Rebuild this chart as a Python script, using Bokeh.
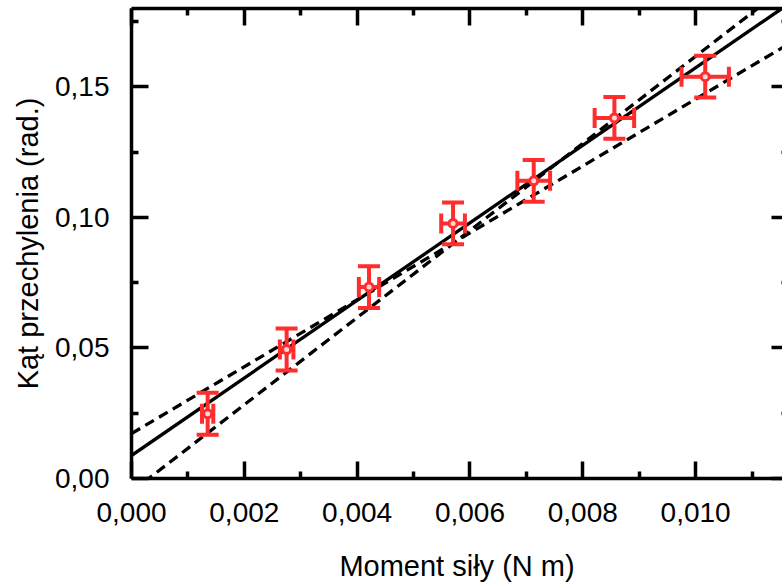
from bokeh.plotting import figure
from bokeh.models import LinearAxis, FixedTicker, CustomJSTickFormatter
from bokeh.embed import file_html
from bokeh.resources import INLINE

# ---- data ----
moment = [0.00135, 0.00275, 0.00421, 0.00570, 0.00713, 0.00856, 0.01017]
angle = [0.0248, 0.0494, 0.0733, 0.0977, 0.1140, 0.1381, 0.1539]
moment_err = [0.00010, 0.00012, 0.00018, 0.00021, 0.00029, 0.00035, 0.00042]
angle_err = [0.008, 0.008, 0.008, 0.008, 0.008, 0.008, 0.008]

# fitted line and the two limiting lines (intercept, slope)
fit_line = (0.0088, 14.85)
shallow_line = (0.0172, 12.81)
steep_line = (-0.0051, 16.68)
line_x = [0.0, 0.0125]

x_major = [0.0, 0.002, 0.004, 0.006, 0.008, 0.010]
x_minor = [0.001, 0.003, 0.005, 0.007, 0.009, 0.011]
y_major = [0.0, 0.05, 0.10, 0.15]
y_minor = [0.025, 0.075, 0.125, 0.175]

RED = "#ff2d2d"
FONT = "Liberation Sans"
FS = "28px"
LFS = "29px"

p = figure(width=782, height=585, x_range=(0, 0.01154), y_range=(0, 0.18),
           output_backend="svg", toolbar_location=None,
           min_border_left=131, min_border_right=0, min_border_top=8,
           min_border_bottom=107)
p.outline_line_color = None
p.xgrid.visible = False
p.ygrid.visible = False
p.background_fill_color = "white"
p.border_fill_color = "white"

xt = FixedTicker(ticks=x_major, minor_ticks=x_minor)
yt = FixedTicker(ticks=y_major, minor_ticks=y_minor)
xf = CustomJSTickFormatter(code="return tick.toFixed(3).replace('.', ',');")
yf = CustomJSTickFormatter(code="return tick.toFixed(2).replace('.', ',');")


def style(ax, ticker, lw=3.5):
    ax.ticker = ticker
    ax.axis_line_width = lw
    ax.axis_line_color = "black"
    ax.major_tick_line_width = lw
    ax.minor_tick_line_width = lw
    ax.major_tick_in = 17
    ax.major_tick_out = 0
    ax.minor_tick_in = 7
    ax.minor_tick_out = 0
    ax.major_label_text_font = FONT
    ax.major_label_text_font_size = FS
    ax.major_label_text_color = "black"
    ax.axis_label_text_font = FONT
    ax.axis_label_text_font_size = LFS
    ax.axis_label_text_font_style = "normal"
    ax.axis_label_text_color = "black"


xa = p.xaxis[0]
style(xa, xt)
xa.formatter = xf
xa.major_label_standoff = 24
xa.axis_label = "Moment siły (N m)"
xa.axis_label_standoff = 25

ya = p.yaxis[0]
style(ya, yt)
ya.formatter = yf
ya.major_label_standoff = 22
ya.axis_label = "Kąt przechylenia (rad.)"
ya.axis_label_standoff = 8

top = LinearAxis()
style(top, FixedTicker(ticks=x_major, minor_ticks=x_minor))
top.major_label_text_font_size = "0px"
top.major_label_standoff = 0
top.formatter = CustomJSTickFormatter(code="return '';")
p.add_layout(top, "above")

right = LinearAxis()
style(right, FixedTicker(ticks=y_major, minor_ticks=y_minor))
right.axis_line_color = None
right.major_tick_in = 11
right.minor_tick_in = 1
right.major_label_text_font_size = "0px"
right.major_label_standoff = 0
right.formatter = CustomJSTickFormatter(code="return '';")
p.add_layout(right, "right")

# lines
def line_y(params):
    a, b = params
    return [a + b * x for x in line_x]

p.line(line_x, line_y(shallow_line), line_color="black", line_width=3.3, line_dash="10 6")
p.line(line_x, line_y(steep_line), line_color="black", line_width=3.3, line_dash="10 6")
p.line(line_x, line_y(fit_line), line_color="black", line_width=3.3)

# error bars
x0 = [x - e for x, e in zip(moment, moment_err)]
x1 = [x + e for x, e in zip(moment, moment_err)]
y0 = [y - e for y, e in zip(angle, angle_err)]
y1 = [y + e for y, e in zip(angle, angle_err)]

EW = 4
p.segment(x0=moment, y0=y0, x1=moment, y1=y1, line_color=RED, line_width=EW)
p.segment(x0=x0, y0=angle, x1=x1, y1=angle, line_color=RED, line_width=EW)
# caps
p.scatter(moment, y0, marker="dash", size=22, line_color=RED, line_width=EW)
p.scatter(moment, y1, marker="dash", size=22, line_color=RED, line_width=EW)
p.scatter(x0, angle, marker="dash", size=20, angle=1.5707963, line_color=RED, line_width=EW)
p.scatter(x1, angle, marker="dash", size=20, angle=1.5707963, line_color=RED, line_width=EW)

# markers
p.scatter(moment, angle, marker="circle", size=11, fill_color=RED, line_color=None)
p.scatter(moment, angle, marker="circle", size=5, fill_color="#ffd6d6", line_color=None)

open("out.html", "w").write(file_html(p, INLINE))
